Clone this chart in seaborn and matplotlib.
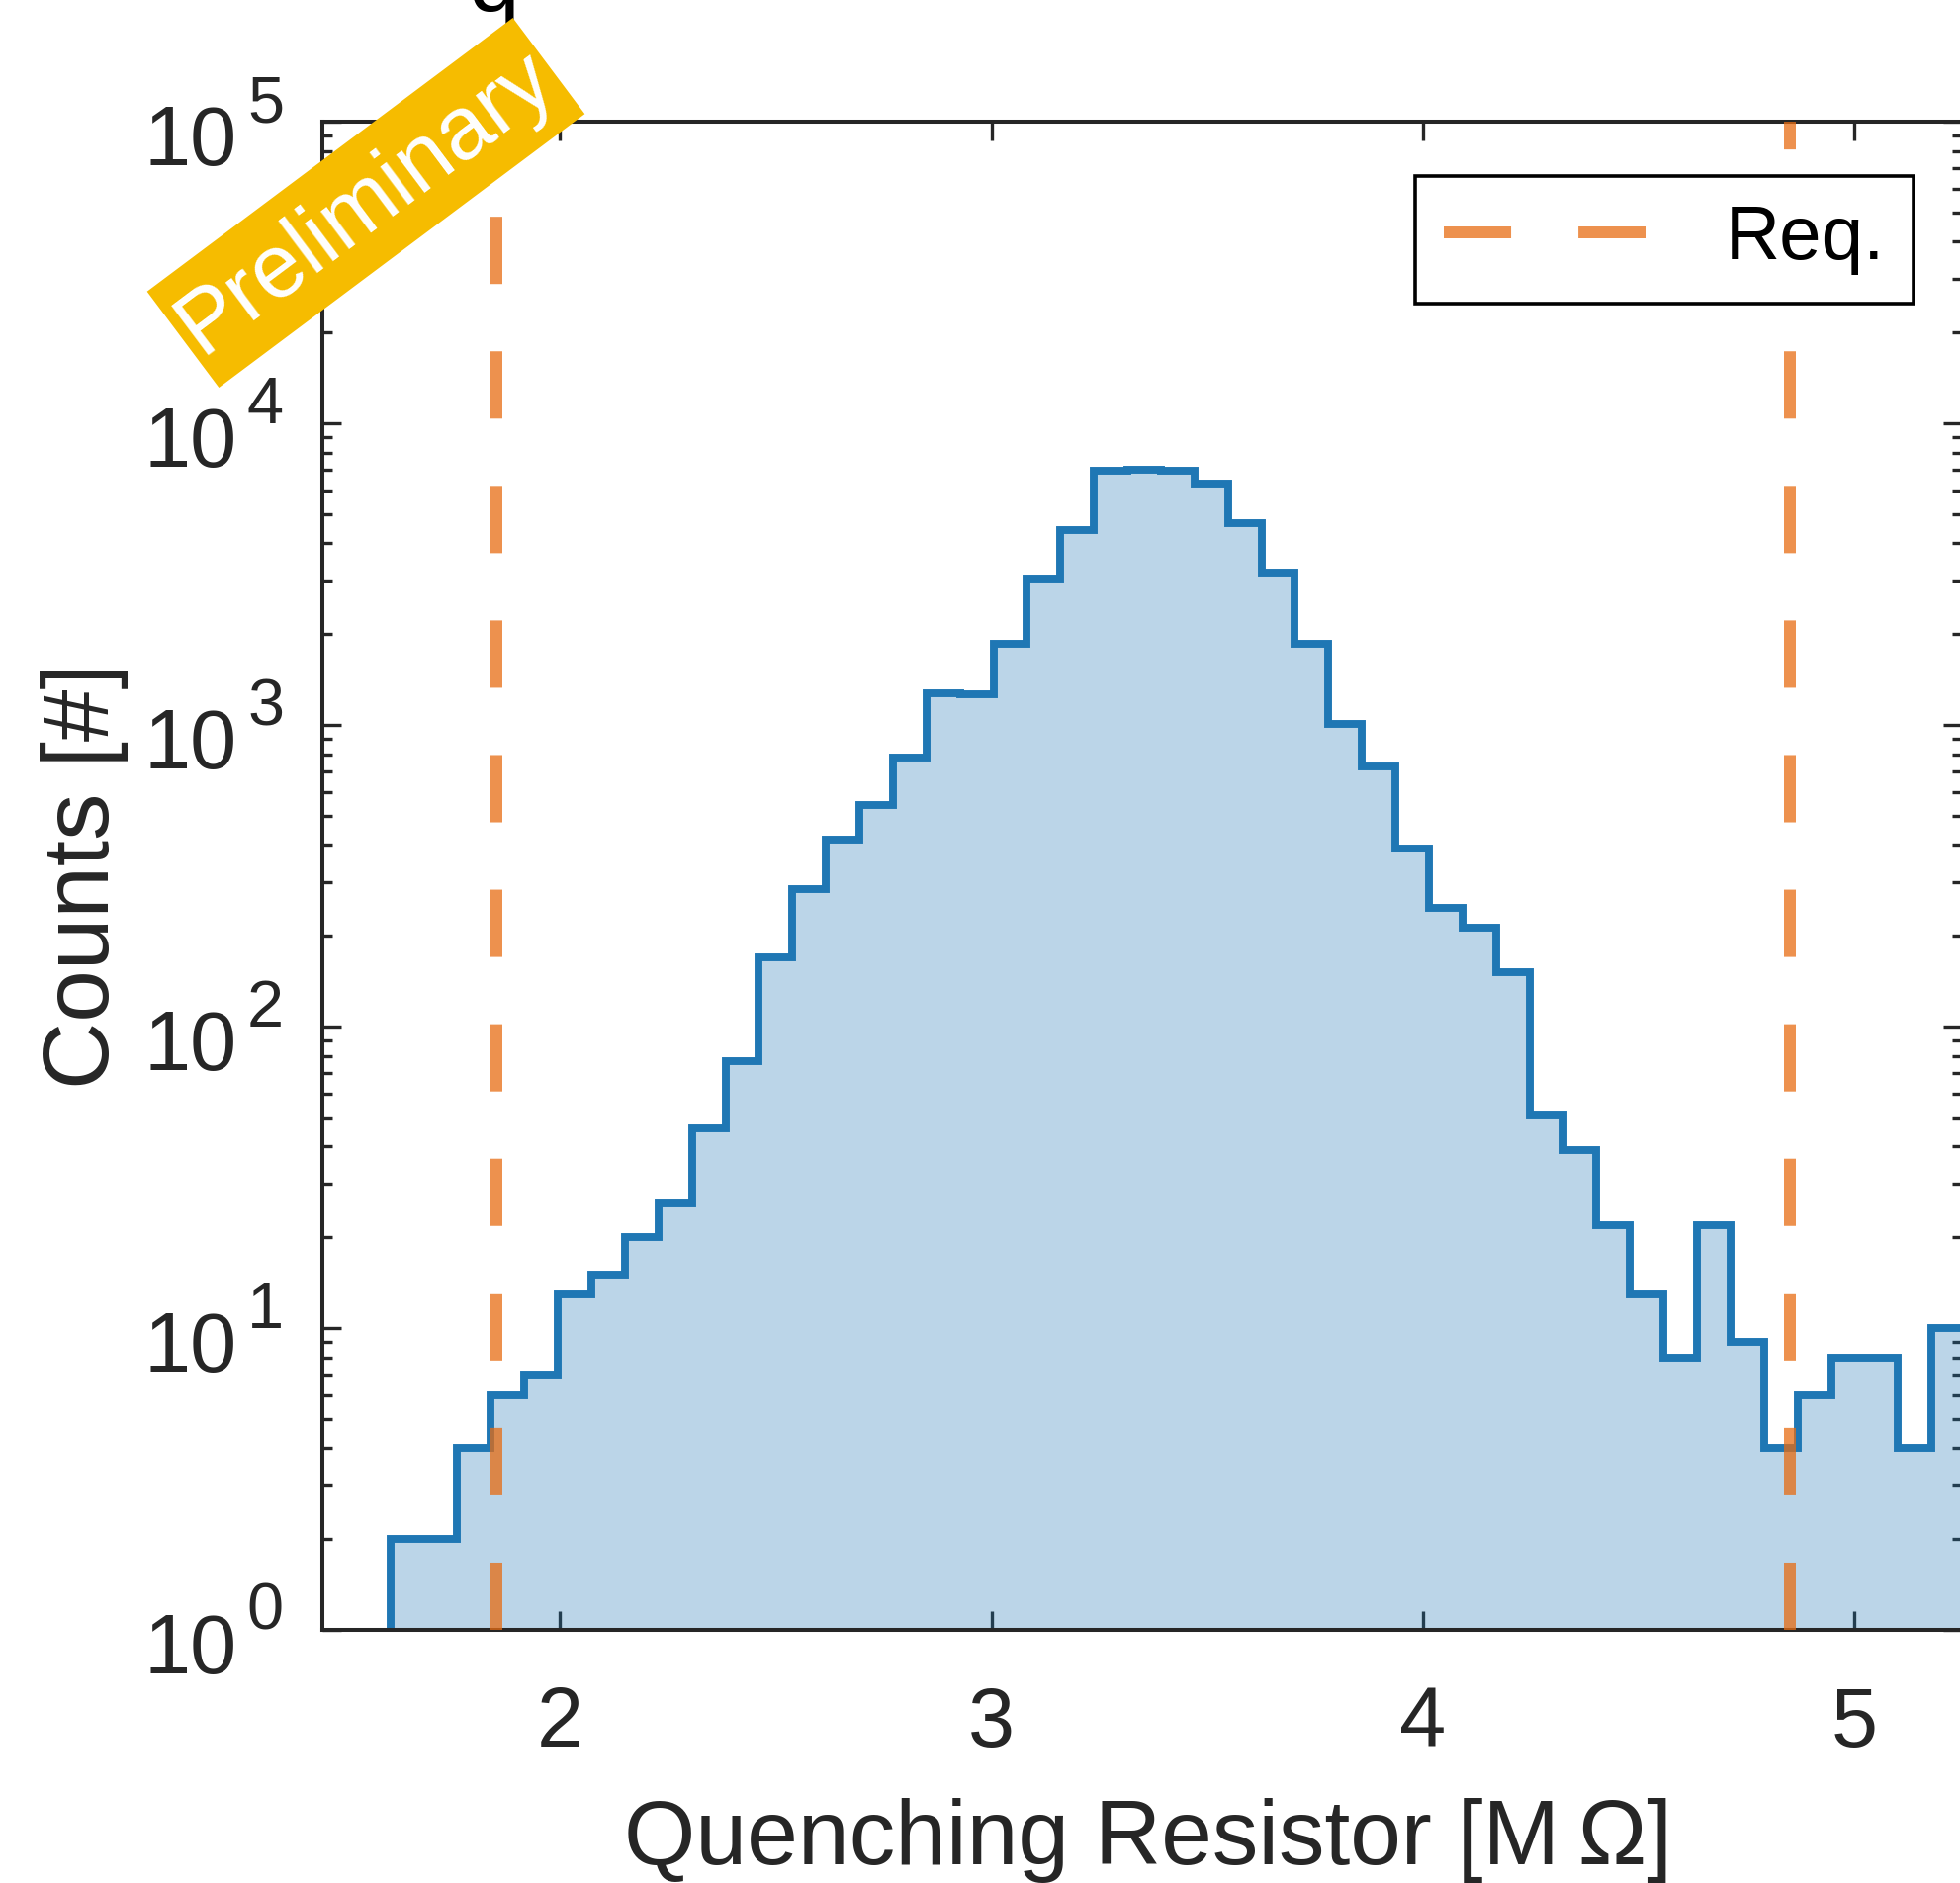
import numpy as np
import pandas as pd
import matplotlib
matplotlib.use("Agg")
import matplotlib.pyplot as plt
import seaborn as sns
from matplotlib.transforms import Affine2D, blended_transform_factory, offset_copy
from matplotlib.patches import Rectangle
from matplotlib.ticker import FixedLocator, LogLocator, NullFormatter, NullLocator

# ---------------- data ----------------
bin_start = 1.606
bin_width = 0.0777
counts = [2, 2, 4, 6, 7, 13, 15, 20, 26, 46,
          77, 169, 286, 415, 542, 780, 1270, 1265, 1860, 3060,
          4440, 6960, 7020, 6980, 6320, 4660, 3210, 1860, 1010, 730,
          388, 248, 213, 152, 51, 39, 22, 13, 8, 22,
          9, 4, 6, 8, 8, 4, 10]
req_limits = [1.852, 4.852]
req_label = "Req."
xticks = [2, 3, 4, 5]
ytick_values = [1, 10, 100, 1000, 10000, 100000]
ytick_exponents = ["0", "1", "2", "3", "4", "5"]
xlabel = "Quenching Resistor [M\u2009\u03a9]"
ylabel = "Counts [#]"
title_fragment = "q"
stamp = "Preliminary"
xlim = (1.4485, 5.2507)
ylim = (1, 1e5)

# ---------------- style ----------------
sns.set_style("white")
plt.rcParams["font.family"] = ["Liberation Sans", "DejaVu Sans"]
DARK = "#262626"
BLUE = "#1f77b4"
ORANGE = "#E76C12"

W, H = 1983, 1904
fig = plt.figure(figsize=(W / 100, H / 100), dpi=100)
ax = fig.add_axes([326 / W, 1 - 1648 / H, (1984 - 326) / W, (1648 - 123) / H])

edges = bin_start + bin_width * np.arange(len(counts) + 1)
centers = edges[:-1] + bin_width / 2
df = pd.DataFrame({"R": centers, "N": counts})

sns.histplot(data=df, x="R", weights="N", bins=[float(b) for b in edges],
             element="step", fill=True, color=BLUE, alpha=0.3, linewidth=5.7,
             joinstyle="miter", ax=ax)

for i, xv in enumerate(req_limits):
    ax.axvline(xv, color=ORANGE, alpha=0.75, lw=8.64, dashes=(5.67, 5.67),
               solid_capstyle="butt", dash_capstyle="butt",
               label=req_label if i == 0 else "_nolegend_", zorder=3)

ax.set_yscale("log")
ax.set_xlim(*xlim)
ax.set_ylim(*ylim)

ax.xaxis.set_major_locator(FixedLocator(xticks))
ax.xaxis.set_minor_locator(NullLocator())
ax.yaxis.set_major_locator(FixedLocator(ytick_values))
ax.yaxis.set_minor_locator(LogLocator(base=10, subs=np.arange(2, 10)))
ax.yaxis.set_major_formatter(NullFormatter())
ax.yaxis.set_minor_formatter(NullFormatter())

for s in ax.spines.values():
    s.set_visible(True)
    s.set_linewidth(2.9)
    s.set_color(DARK)

ax.tick_params(axis="both", which="major", direction="in", length=13.5,
               width=2.4, color=DARK, top=True, right=True, bottom=True,
               left=True, labelsize=61, labelcolor=DARK, pad=40)
ax.tick_params(axis="both", which="minor", direction="in", length=7,
               width=2.4, color=DARK, top=True, right=True, left=True)
ax.tick_params(axis="y", labelleft=False)

# y tick labels (10 with superscript exponent)
trans = blended_transform_factory(ax.transAxes, ax.transData)
for v, e in zip(ytick_values, ytick_exponents):
    ax.text(0, v, "10", transform=offset_copy(trans, fig=fig, x=-86, y=-44, units="dots"),
            ha="right", va="baseline", fontsize=61, color=DARK, clip_on=False)
    ax.text(0, v, e, transform=offset_copy(trans, fig=fig, x=-39, y=0, units="dots"),
            ha="right", va="baseline", fontsize=48, color=DARK, clip_on=False)

ax.set_xlabel(xlabel, fontsize=67, color=DARK)
ax.xaxis.set_label_coords(0.5036, -0.1115)
ax.set_ylabel(ylabel, fontsize=68, color=DARK)
ax.yaxis.set_label_coords(-0.1185, 0.5)

leg = ax.legend(loc="upper right", bbox_to_anchor=(1935 / W, 1 - 178 / H),
                bbox_transform=fig.transFigure, borderaxespad=0, fontsize=55,
                frameon=True, fancybox=False, edgecolor="black", facecolor="white",
                framealpha=1, handlelength=2.68, handletextpad=1.05, borderpad=0.38)
leg.get_frame().set_linewidth(2.6)
for t in leg.get_texts():
    t.set_color("black")

# partially visible title
fig.text(473 / W, 1 - 12 / H, title_fragment, fontsize=67, color="black",
         ha="left", va="baseline", zorder=5)

# Preliminary stamp
cx, cy = 370, H - 205
rect = Rectangle((-231, -60.7), 462, 121.4,
                 transform=Affine2D().rotate_deg(36.8).translate(cx, cy),
                 facecolor="#F6BC00", edgecolor="none", zorder=10)
fig.add_artist(rect)
fig.text(cx / W, cy / H, stamp, rotation=36.8, rotation_mode="anchor",
         ha="center", va="center", color="white", fontsize=65, zorder=11)

fig.savefig("out.png", dpi=100)
